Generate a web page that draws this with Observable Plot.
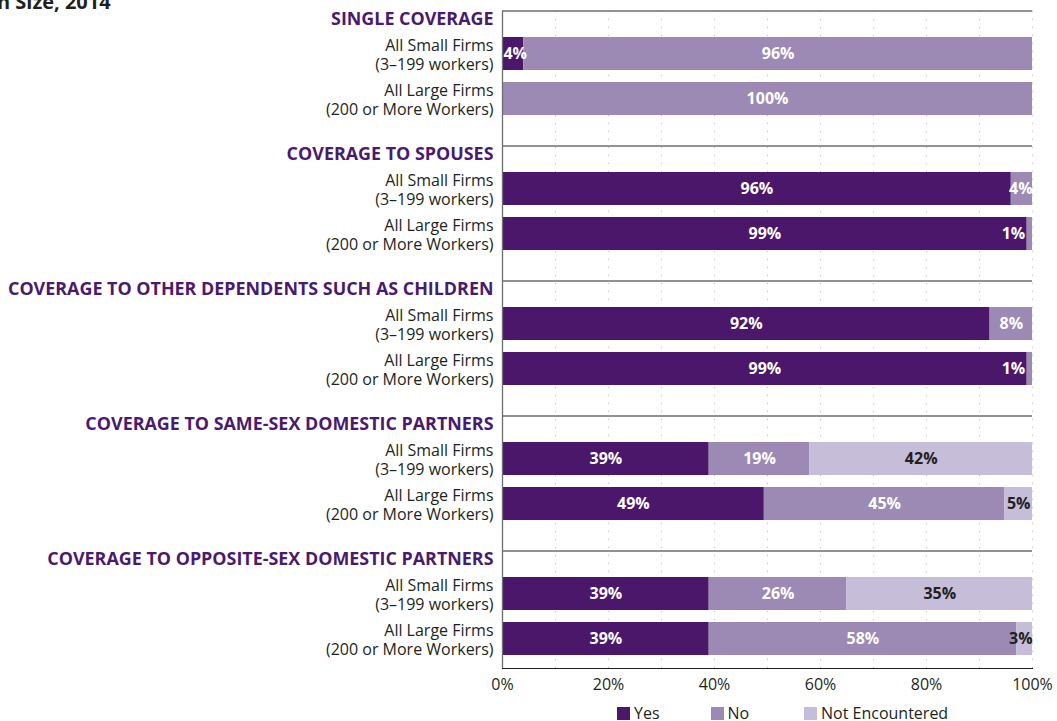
<!DOCTYPE html>
<html>
<head>
<meta charset="utf-8">
<script src="https://cdn.jsdelivr.net/npm/d3@7"></script>
<script src="https://cdn.jsdelivr.net/npm/@observablehq/plot@0.6"></script>
<style>
  body { margin: 0; background: #fff; font-family: "Open Sans", sans-serif; color: #231f20; }
  #wrap { position: relative; width: 1057px; height: 721px; overflow: hidden; background: #fff; }
  #title { position: absolute; left: -3px; top: -12px; font-weight: 700; font-size: 20px; line-height: 27px; white-space: nowrap; color: #231f20; }
  #chart { position: absolute; left: 0; top: 0; }
  #legend { position: absolute; left: 617px; top: 706px; display: flex; font-size: 16px; line-height: 15px; }
  .item { display: flex; align-items: center; width: 93.5px; white-space: nowrap; }
  .sw { width: 13px; height: 13px; margin-right: 4px; flex: none; }
</style>
</head>
<body>
<div id="wrap">
  <div id="title">n Size, 2014</div>
  <div id="chart"></div>
  <div id="legend"></div>
</div>
<script>
// ---- Data ----
const groups = [
  "SINGLE COVERAGE",
  "COVERAGE TO SPOUSES",
  "COVERAGE TO OTHER DEPENDENTS SUCH AS CHILDREN",
  "COVERAGE TO SAME-SEX DOMESTIC PARTNERS",
  "COVERAGE TO OPPOSITE-SEX DOMESTIC PARTNERS"
];
const firmSizes = ["All Small Firms\n(3–199 workers)", "All Large Firms\n(200 or More Workers)"];
const responses = ["Yes", "No", "Not Encountered"];
// one value per (group, firm size): small, large, small, large, ...
const yesPct      = [4, 0,   96, 99,  92, 99,  39, 49.4,  39, 39];
const noPct       = [96, 100, 4, 1,   8, 1,    19, 45.4,  26, 58];
const notEncPct   = [0, 0,    0, 0,   0, 0,    42, 5.2,   35, 3];
const xTicks = [0, 20, 40, 60, 80, 100];
const colors = ["#4a176b", "#9c8ab4", "#c6bdd8"];

// ---- Build tables ----
const rowKeys = [];
const rowLabels = [];
groups.forEach((g, gi) => {
  rowKeys.push(`h${gi}`);
  firmSizes.forEach((f, fi) => {
    rowKeys.push(`r${gi}-${fi}`);
    rowLabels.push({row: `r${gi}-${fi}`, label: f});
  });
});

const segs = [];
const labels = [];
groups.forEach((g, gi) => firmSizes.forEach((f, fi) => {
  const idx = gi * 2 + fi;
  const row = `r${gi}-${fi}`;
  const vals = [yesPct[idx], noPct[idx], notEncPct[idx]];
  let start = 0;
  vals.forEach((v, ri) => {
    if (v > 0) {
      segs.push({row, response: responses[ri], value: v});
      const mid = start + v / 2;
      const lx = v < 2 ? 96.4 : Math.max(2.4, Math.min(97.8, mid));
      labels.push({row, lx, text: Math.round(v) + "%", dark: ri === 2});
    }
    start += v;
  });
}));

const chart = Plot.plot({
  width: 1057,
  height: 700,
  marginLeft: 502,
  marginRight: 25,
  marginTop: 11,
  marginBottom: 32,
  style: {fontFamily: "Open Sans, sans-serif", fontSize: "16px", color: "#231f20", background: "transparent", overflow: "visible"},
  x: {domain: [0, 100], ticks: xTicks, tickFormat: d => d + "%", tickSize: 0, tickPadding: 10, line: true, label: null},
  y: {domain: rowKeys, range: [-14, 661], padding: 0, axis: null},
  color: {domain: responses, range: colors},
  marks: [
    Plot.ruleX(d3.range(10, 101, 10), {stroke: "#b8b8b8", strokeDasharray: "1,7"}),
    Plot.barX(segs, {x: "value", y: "row", fill: "response", insetTop: 6, insetBottom: 6}),
    Plot.ruleY(groups.map((g, i) => `h${i}`), {x1: 0, x2: 100, stroke: "#6d6e71", strokeWidth: 1.3, dy: 2}),
    Plot.ruleX([0], {stroke: "#6d6e71", strokeWidth: 1.3}),
    Plot.text(groups, {y: (d, i) => `h${i}`, text: d => d, frameAnchor: "left", dx: -9, dy: 10.5, textAnchor: "end", fill: "#4a1a6e", fontWeight: "bold", fontSize: 17.9}),
    Plot.text(rowLabels, {y: "row", text: "label", frameAnchor: "left", dx: -9, textAnchor: "end", lineHeight: 1.2, fontSize: 16, letterSpacing: 0.15, fill: "#231f20"}),
    Plot.text(labels.filter(d => !d.dark), {x: "lx", y: "row", text: "text", fill: "white", fontWeight: "bold", fontSize: 16}),
    Plot.text(labels.filter(d => d.dark), {x: "lx", y: "row", text: "text", fill: "#231f20", fontWeight: "bold", fontSize: 16})
  ]
});
document.getElementById("chart").appendChild(chart);

// ---- Legend ----
const legend = document.getElementById("legend");
responses.forEach((r, i) => {
  const item = document.createElement("div");
  item.className = "item";
  const sw = document.createElement("span");
  sw.className = "sw";
  sw.style.background = colors[i];
  const t = document.createElement("span");
  t.textContent = r;
  item.appendChild(sw);
  item.appendChild(t);
  legend.appendChild(item);
});
</script>
</body>
</html>
